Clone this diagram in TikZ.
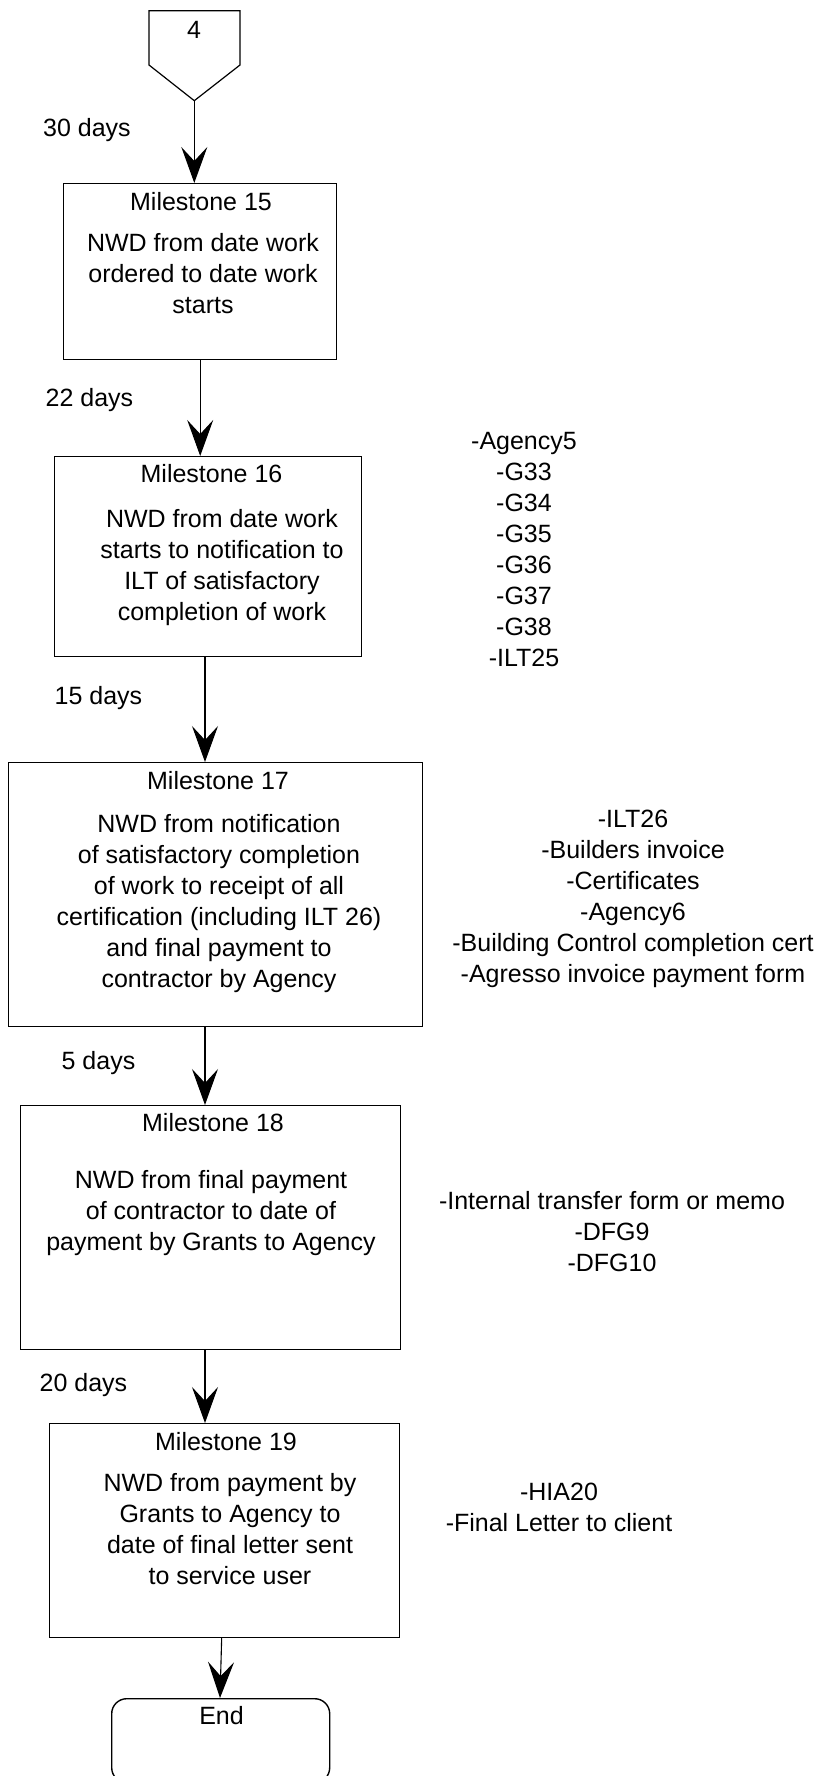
\documentclass[tikz,border=0pt]{standalone}
\usepackage{fontspec}
\setmainfont{Liberation Sans}
\usetikzlibrary{arrows.meta,calc}
\begin{document}
\begin{tikzpicture}[x=1pt,y=-1pt,
  every node/.style={font=\fontsize{25}{31}\selectfont, inner sep=0pt},
  box/.style={draw, line width=1.4pt, rectangle, anchor=north west},
  txt/.style={align=center, anchor=center},
  conn/.style={line width=1.1pt, -{Stealth[length=36pt,width=26pt,inset=14pt]}}
]
\useasboundingbox (0,0) rectangle (819,1776);

% off-page connector 4
\draw[line width=1.2pt] (149,10.7) -- (240,10.7) -- (240,65) -- (194.3,100.7) -- (149,65) -- cycle;
\coordinate (p4tip) at (194.3,100.7);
\node[txt] (n4) at (194,30) {4};

% boxes
\node[box, minimum width=273pt, minimum height=176pt] (m15) at (63,183) {};
\node[box, minimum width=307pt, minimum height=200pt] (m16) at (54,456) {};
\node[box, minimum width=414pt, minimum height=264pt] (m17) at (8,762) {};
\node[box, minimum width=380pt, minimum height=244pt] (m18) at (20,1105) {};
\node[box, minimum width=350pt, minimum height=214pt] (m19) at (49,1423) {};
\node[draw, line width=1.4pt, rounded corners=15pt, anchor=north west, minimum width=218pt, minimum height=84pt] (end) at (111,1698) {};

% box texts
\node[txt] (t15) at (201,202) {Milestone 15};
\node[txt] (b15) at (203,273.5) {NWD from date work\\ordered to date work\\starts};
\node[txt] (t16) at (211.5,474) {Milestone 16};
\node[txt] (b16) at (222,568) {NWD from date work\\starts to notification to\\ILT of satisfactory\\completion of work};
\node[txt] (t17) at (218,781) {Milestone 17};
\node[txt] (b17) at (219,903.5) {NWD from notification\\of satisfactory completion\\of work to receipt of all\\certification (including ILT 26)\\and final payment to\\contractor by Agency};
\node[txt] (t18) at (213,1123) {Milestone 18};
\node[txt] (b18) at (211,1213) {NWD from final payment\\of contractor to date of\\payment by Grants to Agency};
\node[txt] (t19) at (226,1442) {Milestone 19};
\node[txt] (b19) at (230,1529) {NWD from payment by\\Grants to Agency to\\date of final letter sent\\to service user};
\node[txt] (tend) at (221.5,1716) {End};

% side lists
\node[txt] (l16) at (524,550) {-Agency5\\-G33\\-G34\\-G35\\-G36\\-G37\\-G38\\-ILT25};
\node[txt] (l17) at (633,898.5) {-ILT26\\-Builders invoice\\-Certificates\\-Agency6\\-Building Control completion cert\\-Agresso invoice payment form};
\node[txt] (l18) at (612,1231.5) {-Internal transfer form or memo\\-DFG9\\-DFG10};
\node[txt] (l19) at (559,1507.5) {-HIA20\\-Final Letter to client};

% duration labels
\node[txt] (d1) at (87,130) {30 days};
\node[txt] (d2) at (89.5,400) {22 days};
\node[txt] (d3) at (98.5,698) {15 days};
\node[txt] (d4) at (98.5,1063) {5 days};
\node[txt] (d5) at (83.5,1385) {20 days};

% connectors
\coordinate (c16) at (205,0);
\coordinate (c19) at (221.7,1637);
\coordinate (cend) at (220,0);
\draw[conn] (p4tip) -- (p4tip |- m15.north);
\draw[conn] (m15.south) -- (m15.south |- m16.north);
\draw[conn] (m16.south -| c16) -- (m17.north -| c16);
\draw[conn] (m17.south -| c16) -- (m18.north -| c16);
\draw[conn] (m18.south -| c16) -- (m19.north -| c16);
\draw[conn] (c19) -- (end.north -| cend);
\end{tikzpicture}
\end{document}
